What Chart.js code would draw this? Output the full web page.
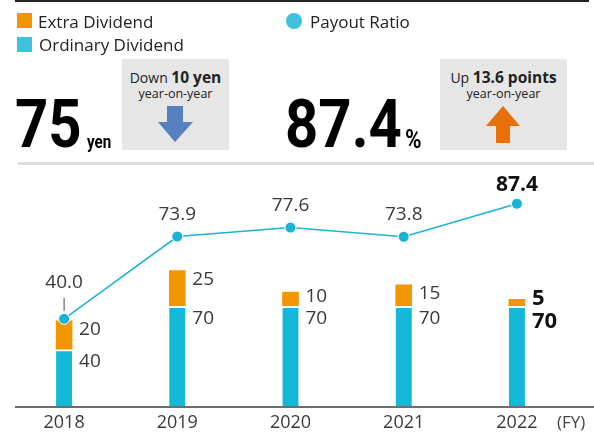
<!DOCTYPE html>
<html>
<head>
<meta charset="utf-8">
<script src="https://cdn.jsdelivr.net/npm/chart.js@4"></script>
<style>
  html, body { margin: 0; padding: 0; background: #fff; }
  #wrap { position: relative; width: 594px; height: 434px; overflow: hidden; font-family: "Open Sans", "Noto Sans", sans-serif; color: #222; }
  canvas { position: absolute; left: 0; top: 0; }
  .abs { position: absolute; white-space: nowrap; }
  .sq { position: absolute; width: 15px; height: 15px; }
  .leg { font-size: 17px; line-height: 20px; }
  .big { font-family: Roboto, sans-serif; font-weight: bold; font-size: 66px; line-height: 66px; color: #000; transform: scaleX(0.88); transform-origin: 0 0; }
  .unit { font-family: Roboto, sans-serif; font-weight: bold; color: #000; transform-origin: 0 0; }
  .box { position: absolute; background: #e6e6e6; text-align: center; color: #222; }
  .box .l1 { font-size: 14px; line-height: 18px; margin-top: 9px; }
  .box .l1 b { font-size: 15.5px; }
  .box .l2 { font-size: 12.5px; line-height: 14px; }
  .box svg { position: absolute; }
</style>
</head>
<body>
<div id="wrap">
  <canvas id="chart" width="594" height="434"></canvas>

  <div class="sq" style="left:17px; top:13px; background:#f29600;"></div>
  <div class="abs leg" style="left:38px; top:12px;">Extra Dividend</div>
  <div class="sq" style="left:17px; top:37px; background:#3fc0dc;"></div>
  <div class="abs leg" style="left:39px; top:35px;">Ordinary Dividend</div>
  <div class="abs" style="left:286px; top:13px; width:16px; height:16px; border-radius:50%; background:#3fc0dc;"></div>
  <div class="abs leg" style="left:310px; top:12px;">Payout Ratio</div>

  <div class="abs big" style="left:15px; top:92px;">75</div>
  <div class="abs unit" style="left:87px; top:132px; font-size:19px; line-height:19px; transform:scaleX(0.8);">yen</div>
  <div class="box" style="left:122px; top:59px; width:107px; height:91px;">
    <div class="l1">Down <b>10 yen</b></div>
    <div class="l2">year-on-year</div>
    <svg style="left:36px; top:47px;" width="36" height="37" viewBox="0 0 36 37">
      <polygon points="9,0 25,0 25,16 35,16 17,36 0,16 9,16" fill="#5680c0"/>
    </svg>
  </div>

  <div class="abs big" style="left:285px; top:92px;">87.4</div>
  <div class="abs unit" style="left:405px; top:127px; font-size:25px; line-height:25px; transform:scaleX(0.9);">%</div>
  <div class="box" style="left:440px; top:59px; width:127px; height:91px;">
    <div class="l1">Up <b>13.6 points</b></div>
    <div class="l2">year-on-year</div>
    <svg style="left:46px; top:47px;" width="35" height="38" viewBox="0 0 35 38">
      <polygon points="17,0 34,20 24,20 24,37 10,37 10,20 0,20" fill="#e8700a"/>
    </svg>
  </div>

  <div class="abs" style="left:557px; top:410px; font-size:17px; line-height:24px; color:#444;">(FY)</div>
</div>

<script>
// 年度と配当・配当性向
const years = ['2018', '2019', '2020', '2021', '2022'];
const ordinary = [40, 70, 70, 70, 70];
const extra = [20, 25, 10, 15, 5];
const payout = [40.0, 73.9, 77.6, 73.8, 87.4];

const CYAN = '#14b7d5';
const ORANGE = '#f29600';

// frame lines and data labels
const decorPlugin = {
  id: 'decor',
  beforeDraw(chart) {
    const ctx = chart.ctx;
    ctx.save();
    ctx.fillStyle = '#222';
    ctx.fillRect(15, 0, 574, 2);
    ctx.fillStyle = '#dcdcdc';
    ctx.fillRect(18, 162, 576, 3);
    ctx.restore();
  },
  afterDatasetsDraw(chart) {
    const ctx = chart.ctx;
    const ordMeta = chart.getDatasetMeta(0);
    const extMeta = chart.getDatasetMeta(1);
    const lineMeta = chart.getDatasetMeta(2);
    const bottom = chart.chartArea.bottom;

    ctx.save();
    ctx.fillStyle = '#6e6e6e';
    ctx.fillRect(15, bottom - 1, 579, 2);

    ctx.textAlign = 'left';
    ctx.textBaseline = 'middle';
    ordMeta.data.forEach((bar, i) => {
      const last = i === years.length - 1;
      const x = bar.x + bar.width / 2 + 7;
      const ordY = bar.y + (last ? 15 : 12);
      const extY = Math.min(extMeta.data[i].y + 9, ordY - (last ? 23 : 22));
      ctx.font = last ? 'bold 22px "Open Sans"' : '19px "Open Sans"';
      ctx.fillStyle = last ? '#111' : '#3a3a3a';
      ctx.fillText(String(ordinary[i]), x, ordY);
      ctx.fillText(String(extra[i]), x, extY);
    });

    ctx.textAlign = 'center';
    lineMeta.data.forEach((pt, i) => {
      const last = i === years.length - 1;
      const barTop = extMeta.data[i].y;
      let y = pt.y - (last ? 19 : 22);
      if (pt.y > barTop - 20) {
        ctx.strokeStyle = '#444';
        ctx.lineWidth = 1;
        ctx.beginPath();
        ctx.moveTo(pt.x, pt.y - 8);
        ctx.lineTo(pt.x, pt.y - 21);
        ctx.stroke();
        y = pt.y - 36;
      }
      ctx.font = last ? 'bold 21px "Open Sans"' : '19px "Open Sans"';
      ctx.fillStyle = last ? '#111' : '#3a3a3a';
      ctx.fillText(payout[i].toFixed(1), pt.x, y);
    });
    ctx.restore();
  }
};

new Chart(document.getElementById('chart').getContext('2d'), {
  type: 'bar',
  data: {
    labels: years,
    datasets: [{
      label: 'Ordinary Dividend',
      data: ordinary,
      backgroundColor: CYAN,
      borderColor: '#fff',
      borderWidth: { top: 2, left: 0, right: 0, bottom: 0 },
      borderSkipped: false,
      barThickness: 16,
      stack: 'div',
      yAxisID: 'y',
      order: 1
    }, {
      label: 'Extra Dividend',
      data: extra,
      backgroundColor: ORANGE,
      borderWidth: 0,
      barThickness: 16,
      stack: 'div',
      yAxisID: 'y',
      order: 1
    }, {
      type: 'line',
      label: 'Payout Ratio',
      data: payout,
      borderColor: '#1ab3d4',
      borderWidth: 1.5,
      pointRadius: 5.5,
      pointBackgroundColor: '#1ab3d4',
      pointBorderColor: '#fff',
      pointBorderWidth: 1,
      yAxisID: 'y1',
      order: 0
    }]
  },
  options: {
    responsive: false,
    animation: false,
    layout: { padding: { left: 7.5, right: 20.5, top: 170, bottom: 0 } },
    scales: {
      x: {
        stacked: true,
        grid: { display: false, drawTicks: false },
        border: { display: false },
        afterFit: (axis) => { axis.height = 27; },
        ticks: {
          padding: 5,
          color: '#3a3a3a',
          font: { family: 'Open Sans', size: 18 }
        }
      },
      y: { stacked: true, display: false, min: 0, max: 165 },
      y1: { display: false, min: 3.7, max: 101.3 }
    },
    plugins: {
      legend: { display: false },
      tooltip: { enabled: false }
    }
  },
  plugins: [decorPlugin]
});
</script>
</body>
</html>
